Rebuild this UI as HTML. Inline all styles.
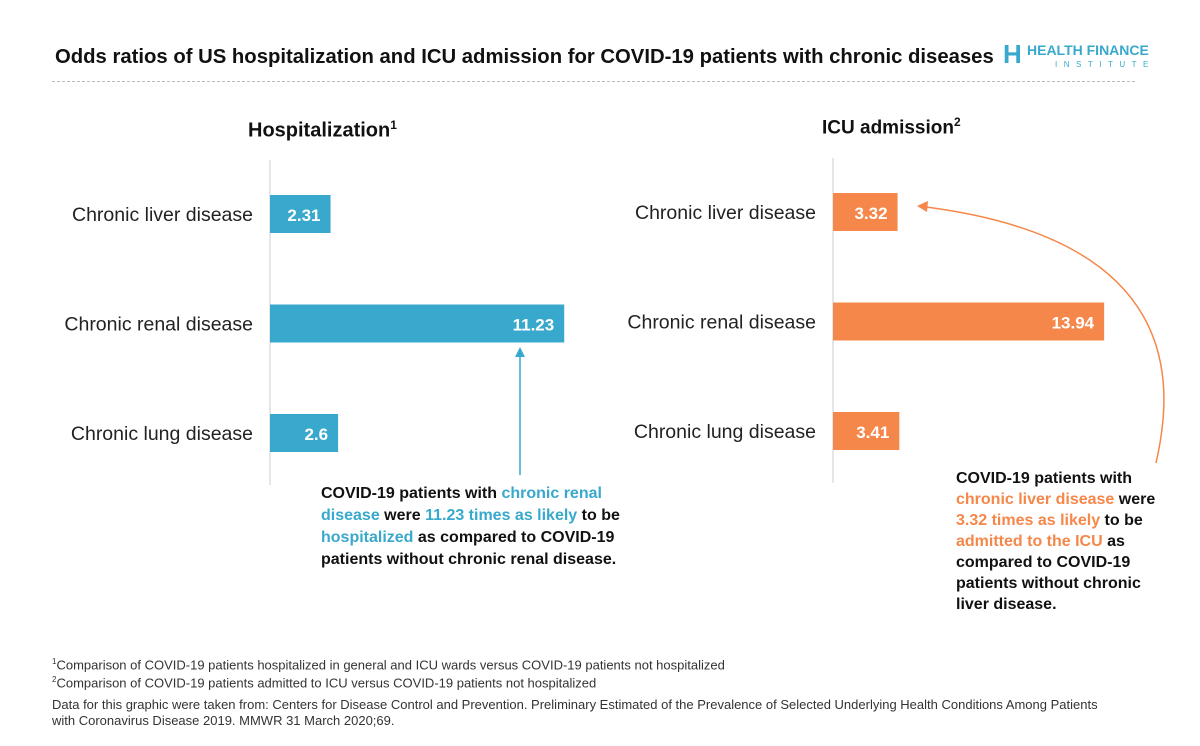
<!DOCTYPE html>
<html><head><meta charset="utf-8"><style>
body{margin:0;width:1200px;height:746px;background:#fff;font-family:"Liberation Sans",sans-serif;overflow:hidden;position:relative}
.t{position:absolute;white-space:nowrap}
.b{font-weight:bold}
.blue{color:#38a9cc}.or{color:#f5874a}
</style></head><body>
<div class="t b" style="left:55px;top:46px;font-size:20.3px;color:#111">Odds ratios of US hospitalization and ICU admission for COVID-19 patients with chronic diseases</div>
<div style="position:absolute;left:1003px;top:40px">
<div class="t b" style="left:0;top:-1px;font-size:26px;color:#38a9cc">H</div>
<div class="t b" style="left:24px;top:2px;font-size:14px;color:#38a9cc">HEALTH FINANCE</div>
<div class="t" style="left:52px;top:20px;font-size:8px;letter-spacing:6.5px;color:#38a9cc">INSTITUTE</div>
</div>
<div style="position:absolute;left:52px;top:81px;width:1083px;border-top:1px dashed #bbb"></div>
<div class="t b" style="left:248px;top:118px;font-size:20px;color:#111">Hospitalization<sup style="font-size:12px">1</sup></div>
<div class="t b" style="left:822px;top:115px;font-size:19px;color:#111">ICU admission<sup style="font-size:12px">2</sup></div>
<svg id="ch" width="1200" height="746" style="position:absolute;left:0;top:0"></svg>
<div class="t b" style="left:321px;top:483px;font-size:16px;line-height:22px;color:#111">COVID-19 patients with <span class="blue">chronic renal</span><br><span class="blue">disease</span> were <span class="blue">11.23 times as likely</span> to be<br><span class="blue">hospitalized</span> as compared to COVID-19<br>patients without chronic renal disease.</div>
<div class="t b" style="left:956px;top:468px;font-size:16px;line-height:21px;color:#111">COVID-19 patients with<br><span class="or">chronic liver disease</span> were<br><span class="or">3.32 times as likely</span> to be<br><span class="or">admitted to the ICU</span> as<br>compared to COVID-19<br>patients without chronic<br>liver disease.</div>
<div class="t" style="left:52px;top:654px;font-size:13px;line-height:15px;color:#333"><sup style="font-size:8px">1</sup>Comparison of COVID-19 patients hospitalized in general and ICU wards versus COVID-19 patients not hospitalized<br><sup style="font-size:8px">2</sup>Comparison of COVID-19 patients admitted to ICU versus COVID-19 patients not hospitalized</div>
<div class="t" style="left:52px;top:697px;font-size:13px;line-height:16px;color:#333">Data for this graphic were taken from: Centers for Disease Control and Prevention. Preliminary Estimated of the Prevalence of Selected Underlying Health Conditions Among Patients<br>with Coronavirus Disease 2019. MMWR 31 March 2020;69.</div>
<script>
const categories=["Chronic liver disease","Chronic renal disease","Chronic lung disease"];
const hospValues=[2.31,11.23,2.6];
const icuValues=[3.32,13.94,3.41];
const hospLabels=["2.31","11.23","2.6"];
const icuLabels=["3.32","13.94","3.41"];
const NS="http://www.w3.org/2000/svg";
const svg=document.getElementById('ch');
function mk(t,a){const e=document.createElementNS(NS,t);for(const k in a)e.setAttribute(k,a[k]);svg.appendChild(e);return e;}
function panel(x0,y0,scale,vals,labs,color,key){
  const l=mk('line',{x1:x0,x2:x0,y1:y0-35,y2:y0+290,stroke:'#ddd','stroke-width':1.5});
  
  
  vals.forEach((v,i)=>{
    const y=y0+i*109.5;
    const w=v*scale;
    const r=mk('rect',{x:x0,y:y,width:w,height:38,fill:color});
    
    
    const t=mk('text',{x:x0+w-10,y:y+26,'text-anchor':'end','font-size':17,'font-weight':'bold',fill:'#fff','font-family':'Liberation Sans,sans-serif'});
    t.textContent=labs[i];
    
    
    const c=mk('text',{x:x0-17,y:y+26,'text-anchor':'end','font-size':19.5,fill:'#222','font-family':'Liberation Sans,sans-serif'});
    c.textContent=categories[i];
    
    
  });
}
panel(270,195,26.2,hospValues,hospLabels,'#38a9cc','hosp');
panel(833,193,19.45,icuValues,icuLabels,'#f5874a','icu');
const a1=mk('line',{x1:520,y1:475,x2:520,y2:356,stroke:'#38a9cc','stroke-width':1.5});


const h1=mk('polygon',{points:'520,347 515,357 525,357',fill:'#38a9cc'});


const a2=mk('path',{d:'M1156,463 C1175,380 1180,240 926,207',fill:'none',stroke:'#f5874a','stroke-width':1.5});


const h2=mk('polygon',{points:'917,206 928,201 927,212',fill:'#f5874a'});


</script>
</body></html>
